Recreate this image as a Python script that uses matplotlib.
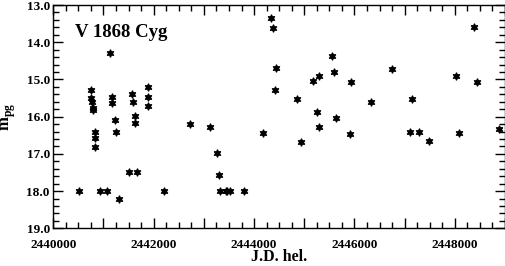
import matplotlib
matplotlib.use("Agg")
import matplotlib.pyplot as plt
from matplotlib.ticker import MultipleLocator, FixedLocator

plt.rcParams['font.family'] = ['Liberation Serif', 'DejaVu Serif']
plt.rcParams['font.weight'] = 'bold'
plt.rcParams['mathtext.fontset'] = 'custom'
plt.rcParams['mathtext.bf'] = 'Liberation Serif:bold'
plt.rcParams['mathtext.rm'] = 'Liberation Serif:bold'

title = "V 1868 Cyg"
x_label = "J.D. hel."
y_label = r"$\mathbf{m}_{\mathbf{pg}}$"

jd = [2440750, 2440750, 2440780, 2440790, 2440800, 2440840, 2440830, 2440840,
      2440510, 2440930, 2441075,
      2441130, 2441160, 2441170, 2441230, 2441250, 2441310,
      2441500, 2441560, 2441590, 2441625, 2441625, 2441660,
      2441890, 2441890, 2441890,
      2442200, 2442720, 2443130, 2443270, 2443300,
      2443330, 2443440, 2443470, 2443520, 2443800,
      2444170, 2444330, 2444370, 2444430, 2444410, 2444860, 2444930,
      2445170, 2445250, 2445290, 2445290, 2445560, 2445600, 2445640,
      2445910, 2445940, 2446340, 2446750, 2447110, 2447140, 2447280,
      2447480, 2448030, 2448090, 2448380, 2448450, 2448890]
mag = [15.28, 15.51, 15.60, 15.76, 15.82, 16.40, 16.58, 16.81,
       18.00, 18.00, 18.00,
       14.30, 15.48, 15.62, 16.09, 16.40, 18.20,
       17.49, 15.39, 15.60, 15.98, 16.18, 17.49,
       15.19, 15.48, 15.71,
       18.00, 16.20, 16.29, 16.98, 17.58,
       18.00, 18.00, 18.00, 18.00, 18.00,
       16.45, 13.36, 13.62, 14.68, 15.28, 15.53, 16.67,
       15.03, 15.87, 14.90, 16.27, 14.36, 14.79, 16.03,
       16.47, 15.06, 15.60, 14.72, 16.42, 15.52, 16.42,
       16.65, 14.92, 16.45, 13.58, 15.06, 16.33]

x_major = list(range(2440000, 2449001, 1000))
x_labels = [str(v) if (v - 2440000) % 2000 == 0 else "" for v in x_major]
y_major = [13.0, 14.0, 15.0, 16.0, 17.0, 18.0, 19.0]
y_labels = ["%.1f" % v for v in y_major]

fig = plt.figure(figsize=(5.06, 2.66), dpi=100)
ax = fig.add_axes([53.3/506, 1-228.3/266, (505-53.3)/506, (228.3-5)/266])

ax.plot(jd, mag, linestyle='none', marker=(6, 1, 0), ms=5.5, color='black',
        markeredgewidth=0.8)

ax.set_xlim(2440000, 2449000)
ax.set_ylim(19.0, 13.0)

ax.xaxis.set_major_locator(FixedLocator(x_major))
ax.set_xticklabels(x_labels)
ax.xaxis.set_minor_locator(MultipleLocator(250))
ax.set_yticks(y_major)
ax.set_yticklabels(y_labels)
ax.yaxis.set_minor_locator(MultipleLocator(0.2))

ax.tick_params(which='both', direction='in', top=True, right=True,
               width=1, labelsize=9.5, colors='black')
ax.tick_params(axis='x', which='major', length=7, pad=7.5)
ax.tick_params(axis='x', which='minor', length=4)
ax.tick_params(axis='y', which='major', length=7, pad=2.5)
ax.tick_params(axis='y', which='minor', length=4)
for lab in ax.get_xticklabels() + ax.get_yticklabels():
    lab.set_fontweight('bold')
for s in ax.spines.values():
    s.set_linewidth(1)

ax.text(0.047, 0.875, title, transform=ax.transAxes, fontsize=13.5,
        fontweight='bold', va='center', ha='left')

ax.set_xlabel(x_label, fontsize=11.5, fontweight='bold')
ax.xaxis.set_label_coords(0.5, -0.092)
ax.set_ylabel(y_label, fontsize=12, labelpad=6)

fig.savefig("out.png", dpi=100)
